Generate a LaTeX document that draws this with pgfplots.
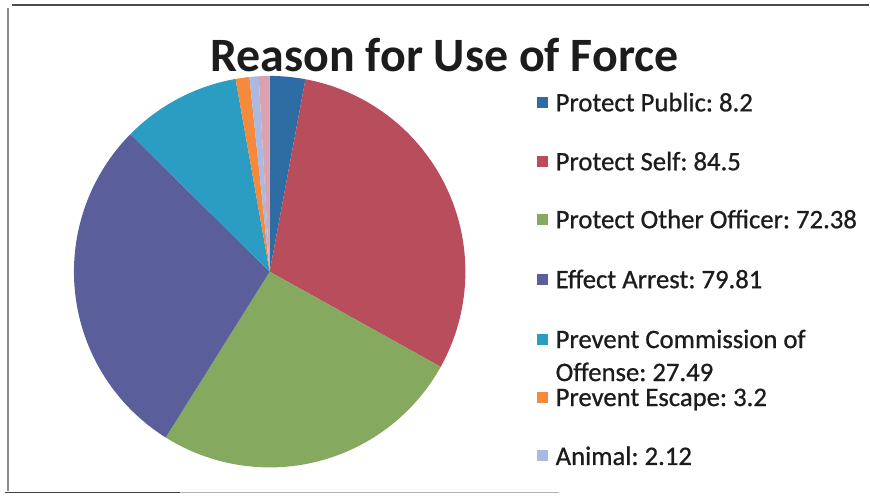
\documentclass[border=0pt]{standalone}
\usepackage{pgfplots}
\usepackage{pgfplotstable}
\pgfplotsset{compat=1.18}
\usepackage{fontspec}
\setmainfont{Carlito}
\newfontfamily\legfont{Carlito}[FakeBold=0.8]
\frenchspacing

\definecolor{cPP}{HTML}{2E6DA4}
\definecolor{cPS}{HTML}{B84E5C}
\definecolor{cPO}{HTML}{86A960}
\definecolor{cEA}{HTML}{5A5F9C}
\definecolor{cPC}{HTML}{2B9CC2}
\definecolor{cPE}{HTML}{F58A3C}
\definecolor{cAN}{HTML}{A9B9E2}
\definecolor{cOT}{HTML}{D9A2AE}
\definecolor{txt}{HTML}{1C1C1C}

\pgfplotstableread{
value color
8.2 cPP
84.5 cPS
72.38 cPO
79.81 cEA
27.49 cPC
3.2 cPE
2.12 cAN
2.5 cOT
}\piedata

\begin{document}
\begin{tikzpicture}
\begin{axis}[x=0.02cm, y=0.02cm, xmin=0, xmax=870, ymin=0, ymax=500,
  hide axis, scale only axis, clip=false]
\path (axis cs:0,0) rectangle (axis cs:870,500);
\pgfplotstablegetrowsof{\piedata}
\pgfmathtruncatemacro{\N}{\pgfplotsretval-1}
\def\total{0}
\def\cum{0}
\pgfplotsforeachungrouped \i in {0,...,\N}{%
  \pgfplotstablegetelem{\i}{value}\of\piedata
  \pgfmathsetmacro{\total}{\total+\pgfplotsretval}%
}
\pgfplotsforeachungrouped \i in {0,...,\N}{%
  \pgfplotstablegetelem{\i}{value}\of\piedata \let\v\pgfplotsretval
  \pgfplotstablegetelem{\i}{color}\of\piedata \let\c\pgfplotsretval
  \pgfmathsetmacro{\fS}{\cum/\total}%
  \pgfmathsetmacro{\cum}{\cum+\v}%
  \pgfmathsetmacro{\fE}{\cum/\total}%
  \pgfmathsetmacro{\aS}{90-360*\fS}%
  \pgfmathsetmacro{\aE}{90-360*\fE}%
  \edef\temp{\noexpand\fill[\c] (axis cs:270,228) -- ++(\aS:3.92cm) arc[start angle=\aS, end angle=\aE, radius=3.92cm] -- cycle;}%
  \temp
}

% frame
\draw[line width=1.2pt, black!70] (axis cs:12,495) -- (axis cs:870,495);
\draw[line width=0.8pt, black!45] (axis cs:8,492) -- (axis cs:8,8);
\draw[line width=1pt, black!75] (axis cs:5,7) -- (axis cs:180,7);
\draw[line width=0.6pt, black!30] (axis cs:180,7) -- (axis cs:560,7);

% title
\node[anchor=base, font=\fontsize{27.3}{30}\selectfont\bfseries, text=txt] at (axis cs:445,428) {Reason for Use of Force};

% legend
\tikzset{leg/.style={anchor=base west, inner sep=0pt, font=\legfont\fontsize{15.2}{17}\selectfont, text=txt}}
\fill[cPP] (axis cs:538,392) rectangle (axis cs:549,403);
\node[leg] at (axis cs:556,388.5) {Protect Public: 8.2};
\fill[cPS] (axis cs:538,333) rectangle (axis cs:549,344);
\node[leg] at (axis cs:556,329.5) {Protect Self: 84.5};
\fill[cPO] (axis cs:538,275) rectangle (axis cs:549,286);
\node[leg] at (axis cs:556,271.5) {Protect Other Officer: 72.38};
\fill[cEA] (axis cs:538,215) rectangle (axis cs:549,226);
\node[leg] at (axis cs:556,211.5) {Effect Arrest: 79.81};
\fill[cPC] (axis cs:538,155) rectangle (axis cs:549,166);
\node[leg] at (axis cs:556,151.5) {Prevent Commission of};
\node[leg] at (axis cs:556,118.5) {Offense: 27.49};
\fill[cPE] (axis cs:538,97) rectangle (axis cs:549,108);
\node[leg] at (axis cs:556,93.5) {Prevent Escape: 3.2};
\fill[cAN] (axis cs:538,38) rectangle (axis cs:549,49);
\node[leg] at (axis cs:556,34.5) {Animal: 2.12};
\end{axis}
\end{tikzpicture}
\end{document}
